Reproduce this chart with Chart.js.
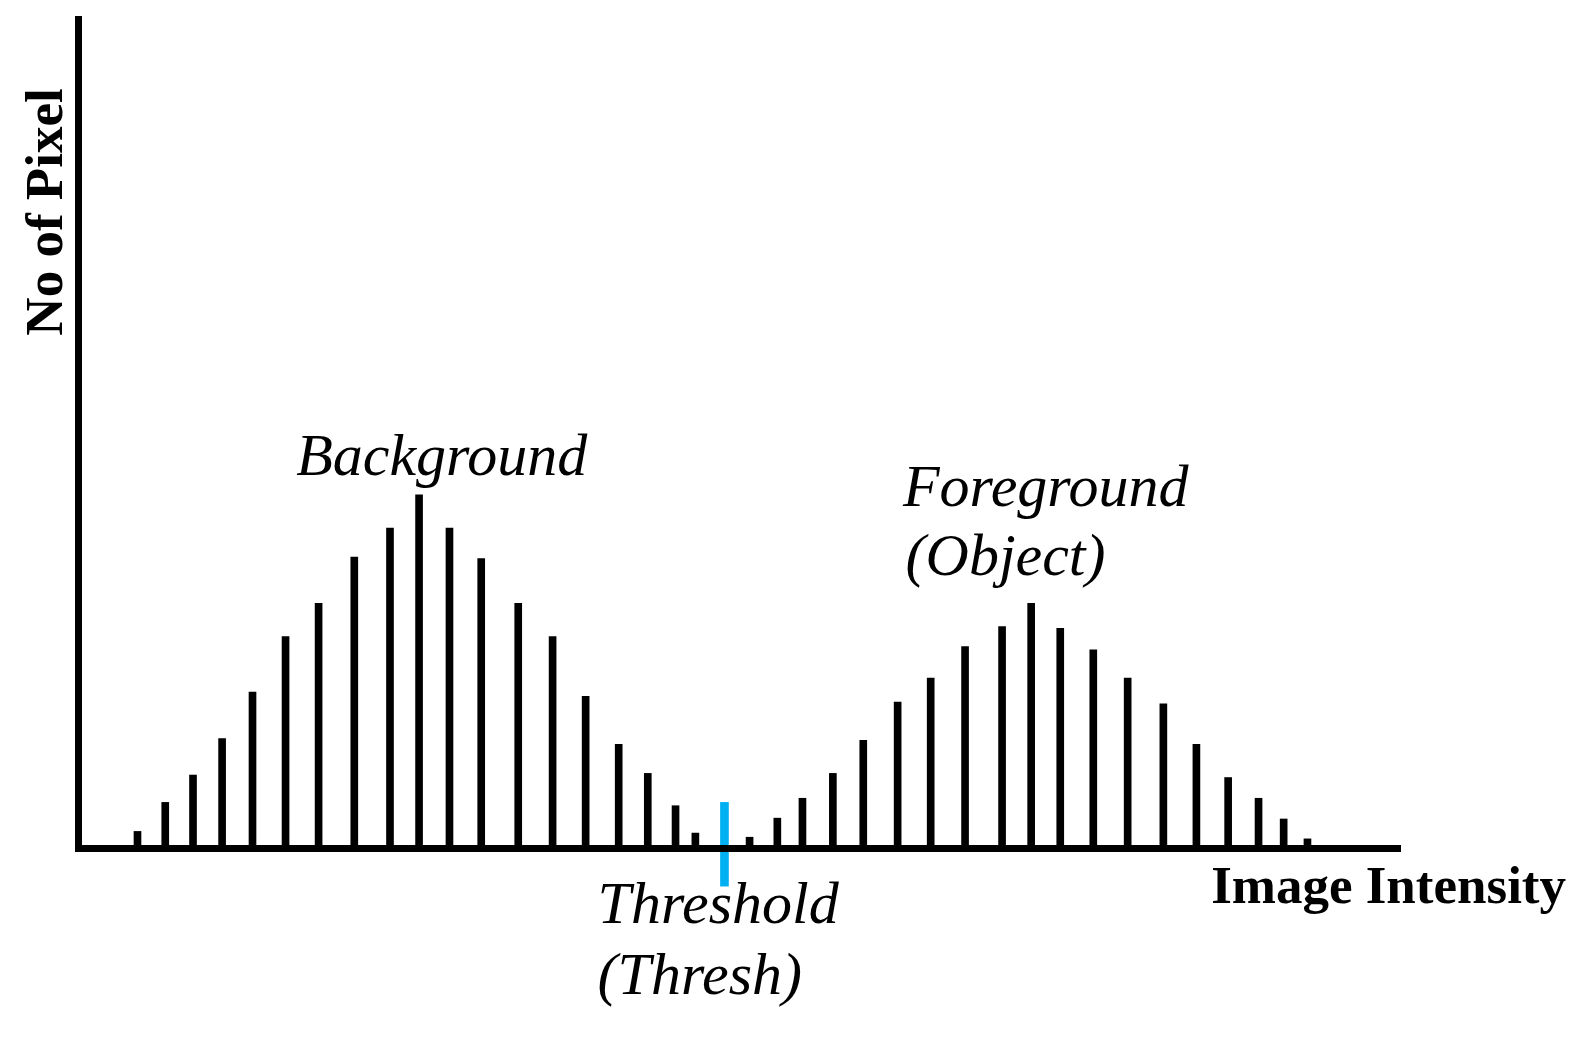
<!DOCTYPE html>
<html lang="en">
  <head>
    <meta charset="utf-8">
    <title>Histogram Threshold</title>
    <style>
      body { margin: 0; background: #fff; }
    </style>
  </head>
  <body>
    <canvas id="myChart" width="1582" height="1037"></canvas>

    <script src="https://cdn.jsdelivr.net/npm/chart.js@4/dist/chart.umd.min.js"></script>
    <script>
      // intensity on a 0-100 scale, pixel count on a 0-100 scale
      var bgIntensity = [4.5, 6.6, 8.7, 10.9, 13.2, 15.7, 18.2, 20.9, 23.6, 25.8, 28.1, 30.5, 33.3, 35.9, 38.4, 40.9, 43.1, 45.2, 46.7];
      var bgCount = [2.0, 5.5, 8.8, 13.2, 18.8, 25.5, 29.5, 35.1, 38.6, 42.6, 38.6, 34.9, 29.5, 25.5, 18.3, 12.5, 9.0, 5.1, 1.8];
      var fgIntensity = [50.8, 52.9, 54.8, 57.1, 59.4, 62.0, 64.5, 67.1, 69.9, 72.1, 74.3, 76.8, 79.4, 82.1, 84.6, 87.0, 89.3, 91.2, 93.0];
      var fgCount = [1.3, 3.6, 6.0, 9.0, 13.0, 17.6, 20.5, 24.3, 26.7, 29.5, 26.5, 23.9, 20.5, 17.4, 12.5, 8.5, 6.0, 3.5, 1.1];
      var thresh = 48.9;
      var threshRange = [-4.6, 5.5];

      var xTitle = 'Image Intensity';
      var yTitle = 'No of Pixel';

      // annotation texts, anchored in data units (left edge, baseline)
      var notes = [
        { text: 'Background', x: 16.5, y: 45.0 },
        { text: 'Foreground', x: 62.4, y: 41.3 },
        { text: '(Object)', x: 62.6, y: 32.9 },
        { text: 'Threshold', x: 39.3, y: -9.0 },
        { text: '(Thresh)', x: 39.3, y: -17.6 }
      ];

      function toPoints(xs, ys) {
        var out = [];
        for (var i = 0; i < xs.length; i++) {
          out.push({ x: xs[i], y: ys[i] });
        }
        return out;
      }

      var textPlugin = {
        id: 'texts',
        afterDraw: function(chart) {
          var ctx = chart.ctx;
          var xs = chart.scales.x;
          var ys = chart.scales.y;
          var area = chart.chartArea;
          ctx.save();
          ctx.fillStyle = '#000';

          ctx.font = 'italic 60px "Liberation Serif", "DejaVu Serif", serif';
          ctx.textAlign = 'left';
          ctx.textBaseline = 'alphabetic';
          notes.forEach(function(n) {
            ctx.fillText(n.text, xs.getPixelForValue(n.x), ys.getPixelForValue(n.y));
          });

          ctx.font = 'bold 53px "Liberation Serif", "DejaVu Serif", serif';
          ctx.textAlign = 'right';
          ctx.fillText(xTitle, area.right + 166, area.bottom + 55);

          ctx.translate(62, 212);
          ctx.rotate(-Math.PI / 2);
          ctx.textAlign = 'center';
          ctx.fillText(yTitle, 0, 0);
          ctx.restore();
        }
      };

      var ctx = document.getElementById('myChart').getContext('2d');
      var myChart = new Chart(ctx, {
        type: 'bar',
        data: {
          datasets: [{
            label: 'Background',
            data: toPoints(bgIntensity, bgCount),
            backgroundColor: '#000',
            barThickness: 7
          }, {
            label: 'Foreground',
            data: toPoints(fgIntensity, fgCount),
            backgroundColor: '#000',
            barThickness: 7
          }, {
            label: 'Threshold',
            data: [{ x: thresh, y: threshRange }],
            backgroundColor: '#00B0F0',
            barThickness: 8,
            clip: false
          }]
        },
        options: {
          responsive: false,
          animation: false,
          layout: {
            padding: { left: 78, top: 19, right: 182, bottom: 189 }
          },
          plugins: {
            legend: { display: false },
            tooltip: { enabled: false }
          },
          datasets: {
            bar: { grouped: false }
          },
          scales: {
            x: {
              type: 'linear',
              min: 0,
              max: 100,
              offset: false,
              ticks: { display: false },
              grid: { display: false, drawTicks: false },
              border: { display: true, color: '#000', width: 7, z: 1 }
            },
            y: {
              min: 0,
              max: 100,
              ticks: { display: false },
              grid: { display: false, drawTicks: false },
              border: { display: true, color: '#000', width: 7, z: 1 }
            }
          }
        },
        plugins: [textPlugin]
      });
    </script>
  </body>
</html>
